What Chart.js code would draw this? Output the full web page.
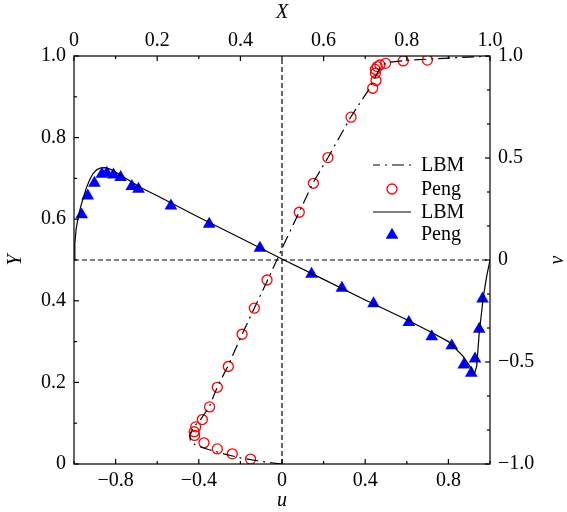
<!DOCTYPE html>
<html><head><meta charset="utf-8">
<script src="https://cdn.jsdelivr.net/npm/chart.js@4.4.1/dist/chart.umd.min.js"></script>
<style>html,body{margin:0;padding:0;background:#fff}</style>
</head><body>
<canvas id="c" width="567" height="512" style="width:567px;height:512px;display:block"></canvas>
<script>
// ---- u-velocity along vertical centreline (u on bottom axis, Y on left axis)
const lbmUY = [0,0.003,0.008,0.015,0.025,0.035,0.045,0.055,0.07,0.09,0.11,0.14,0.19,0.24,0.32,0.38,0.45,0.5,0.55,0.62,0.69,0.75,0.85,0.92,0.95,0.97,0.98,0.985,0.99,0.995,1.0];
const lbmU  = [0,-0.05,-0.12,-0.2,-0.28,-0.35,-0.41,-0.44,-0.443,-0.425,-0.39,-0.35,-0.31,-0.26,-0.19,-0.135,-0.07,-0.025,0.02,0.085,0.15,0.22,0.33,0.42,0.45,0.47,0.49,0.52,0.62,0.8,1.0];
const pengUY = [0.012,0.025,0.037,0.052,0.070,0.079,0.091,0.109,0.140,0.188,0.239,0.318,0.382,0.451,0.617,0.688,0.751,0.850,0.921,0.940,0.958,0.967,0.974,0.978,0.982,0.988,0.990];
const pengU  = [-0.151,-0.239,-0.311,-0.375,-0.420,-0.422,-0.415,-0.383,-0.348,-0.311,-0.258,-0.192,-0.133,-0.072,0.083,0.151,0.221,0.332,0.436,0.452,0.449,0.449,0.458,0.471,0.498,0.583,0.699];
// ---- v-velocity along horizontal centreline (X on top axis, v on right axis)
const lbmVX = [0,0.002,0.005,0.01,0.016,0.023,0.03,0.038,0.046,0.055,0.065,0.075,0.085,0.095,0.11,0.13,0.16,0.2,0.3,0.4,0.5,0.6,0.7,0.8,0.86,0.9,0.92,0.936,0.952,0.963,0.968,0.974,0.984,0.992,1.0];
const lbmV  = [0,0.08,0.15,0.21,0.26,0.31,0.355,0.395,0.425,0.443,0.452,0.453,0.447,0.437,0.418,0.393,0.355,0.315,0.21,0.108,0.005,-0.095,-0.196,-0.293,-0.355,-0.40,-0.44,-0.474,-0.523,-0.557,-0.52,-0.36,-0.18,-0.08,0];
const pengVX = [0.0185,0.033,0.049,0.067,0.079,0.095,0.112,0.139,0.155,0.233,0.325,0.447,0.571,0.644,0.720,0.805,0.860,0.908,0.937,0.955,0.964,0.974,0.982];
const pengV  = [0.222,0.315,0.377,0.421,0.426,0.418,0.405,0.361,0.348,0.266,0.176,0.058,-0.069,-0.138,-0.214,-0.306,-0.375,-0.420,-0.514,-0.554,-0.484,-0.339,-0.190];
// ---- reference lines
const refVertU = [0,0];   const refVertY = [0,1];
const refHorU  = [-1,1];  const refHorY  = [0.5,0.5];
// ---- ticks
const uMajor = [-0.8,-0.4,0,0.4,0.8]; const uLabels = ['\u22120.8','\u22120.4','0','0.4','0.8']; const uMinor = [-1,-0.6,-0.2,0.2,0.6,1];
const xMajor = [0,0.2,0.4,0.6,0.8,1.0]; const xLabels = ['0','0.2','0.4','0.6','0.8','1.0']; const xMinor = [0.1,0.3,0.5,0.7,0.9];
const yMajor = [0,0.2,0.4,0.6,0.8,1.0]; const yLabels = ['0','0.2','0.4','0.6','0.8','1.0']; const yMinor = [0.1,0.3,0.5,0.7,0.9];
const vMajor = [-1,-0.5,0,0.5,1]; const vLabels = ['\u22121.0','\u22120.5','0','0.5','1.0']; const vMinor = [-5/6,-4/6,-2/6,-1/6,1/6,2/6,4/6,5/6];
const vTitle = 'v';

const pts = (xs, ys) => xs.map((x,i)=>({x:x, y:ys[i]}));
const FONT = 'Liberation Serif';

function scaleOpts(pos, min, max, majors, labels, minors, size, pad, title, tpad) {
  return {
    type:'linear', position:pos, min:min, max:max,
    grid:{display:false, drawTicks:false}, border:{display:false},
    afterBuildTicks: s => { s.ticks = majors.concat(minors).sort((a,b)=>a-b).map(v=>({value:v})); },
    afterFit: s => { if (pos==='left'||pos==='right') s.width = size; else s.height = size; },
    ticks:{autoSkip:false, maxRotation:0, minRotation:0, padding:pad, color:'#000',
      font:{family:FONT, size:20},
      callback:(v)=>{ const i = majors.findIndex(m=>Math.abs(m-v)<1e-9); return i>=0?labels[i]:''; }},
    title:{display:!!title, text:title||'', color:'#000', padding:tpad, font:{family:FONT, size:20, style:'italic', lineHeight:1}},
    _majors: majors, _minors: minors
  };
}

const tickPlugin = {
  id:'ticksFrame',
  afterDatasetsDraw(chart){
    const ctx = chart.ctx, a = chart.chartArea;
    ctx.save();
    ctx.strokeStyle = '#000'; ctx.lineWidth = 1.2; ctx.setLineDash([]);
    ctx.strokeRect(a.left, a.top, a.right-a.left, a.bottom-a.top);
    const specs = [['x','bottom'],['x2','top'],['y','left'],['y2','right']];
    for (const [id,pos] of specs) {
      const s = chart.scales[id], o = s.options;
      const draw = (v, len) => {
        const p = s.getPixelForValue(v);
        ctx.beginPath();
        if (pos==='bottom'){ ctx.moveTo(p,a.bottom); ctx.lineTo(p,a.bottom-len); }
        if (pos==='top'){ ctx.moveTo(p,a.top); ctx.lineTo(p,a.top+len); }
        if (pos==='left'){ ctx.moveTo(a.left,p); ctx.lineTo(a.left+len,p); }
        if (pos==='right'){ ctx.moveTo(a.right,p); ctx.lineTo(a.right-len,p); }
        ctx.stroke();
      };
      o._majors.forEach(v=>draw(v,5));
      o._minors.forEach(v=>draw(v,3));
    }
    ctx.restore();
  },
  afterDraw(chart){
    const ctx = chart.ctx, a = chart.chartArea;
    ctx.save();
    // right axis title, rotated like the left one
    ctx.font = 'italic 20px "'+FONT+'"'; ctx.fillStyle = '#000'; ctx.textBaseline = 'middle'; ctx.textAlign = 'center';
    ctx.save(); ctx.translate(558, (a.top+a.bottom)/2); ctx.rotate(-Math.PI/2); ctx.fillText(vTitle, 0, 0); ctx.restore();
    // legend
    ctx.font = '20px "'+FONT+'"'; ctx.textAlign = 'left';
    const rows = [165,189,212,234];
    const x0 = 373, x1 = 411, xt = 421, xm = 392;
    const ds = chart.data.datasets;
    ctx.strokeStyle = '#000'; ctx.lineWidth = 1.2; ctx.setLineDash([12,5,2,5]); ctx.lineDashOffset = 5;
    ctx.beginPath(); ctx.moveTo(x0,rows[0]); ctx.lineTo(x1,rows[0]); ctx.stroke();
    ctx.setLineDash([]);
    ctx.fillText(ds[0].label, xt, rows[0]+1);
    ctx.strokeStyle = 'red'; ctx.lineWidth = 1.3;
    ctx.beginPath(); ctx.arc(xm, rows[1], 5, 0, Math.PI*2); ctx.stroke();
    ctx.fillText(ds[1].label, xt, rows[1]+1);
    ctx.strokeStyle = '#000'; ctx.lineWidth = 1.2;
    ctx.beginPath(); ctx.moveTo(x0,rows[2]); ctx.lineTo(x1,rows[2]); ctx.stroke();
    ctx.fillText(ds[2].label, xt, rows[2]+1);
    ctx.fillStyle = 'blue';
    const r = 7.3, cy = rows[3]+1;
    ctx.beginPath();
    for (let k=0;k<3;k++){ const ang = k*2*Math.PI/3; const px = xm+Math.sin(ang)*r, py = cy-Math.cos(ang)*r; k?ctx.lineTo(px,py):ctx.moveTo(px,py); }
    ctx.closePath(); ctx.fill();
    ctx.fillStyle = '#000';
    ctx.fillText(ds[3].label, xt, rows[3]+1);
    ctx.restore();
  }
};

new Chart(document.getElementById('c'), {
  type:'scatter',
  data:{ datasets:[
    {label:'LBM', data:pts(lbmU,lbmUY), xAxisID:'x', yAxisID:'y', showLine:true, borderColor:'#000', borderWidth:1.2, borderDash:[12,5,2,5], pointRadius:0, tension:0},
    {label:'Peng', data:pts(pengU,pengUY), xAxisID:'x', yAxisID:'y', showLine:false, pointStyle:'circle', pointRadius:5, borderColor:'red', backgroundColor:'rgba(0,0,0,0)', pointBorderWidth:1.3},
    {label:'LBM', data:pts(lbmVX,lbmV), xAxisID:'x2', yAxisID:'y2', showLine:true, borderColor:'#000', borderWidth:1.2, pointRadius:0, tension:0},
    {label:'Peng', data:pts(pengVX,pengV), xAxisID:'x2', yAxisID:'y2', showLine:false, pointStyle:'triangle', pointRadius:7.3, borderWidth:0, backgroundColor:'blue', borderColor:'blue'},
    {label:'ref1', data:pts(refVertU,refVertY), xAxisID:'x', yAxisID:'y', showLine:true, borderColor:'#000', borderWidth:1.2, borderDash:[5,3], pointRadius:0},
    {label:'ref2', data:pts(refHorU,refHorY), xAxisID:'x', yAxisID:'y', showLine:true, borderColor:'#000', borderWidth:1.2, borderDash:[5,3], pointRadius:0}
  ]},
  options:{
    responsive:false, animation:false, devicePixelRatio:1,
    layout:{padding:0},
    plugins:{legend:{display:false}, tooltip:{enabled:false}},
    scales:{
      x: scaleOpts('bottom',-1,1,uMajor,uLabels,uMinor,48,5,'u',{bottom:1}),
      x2: scaleOpts('top',0,1,xMajor,xLabels,xMinor,56,3,'X',{top:3}),
      y: scaleOpts('left',0,1,yMajor,yLabels,yMinor,74,8,'Y',{top:6}),
      y2: scaleOpts('right',-1,1,vMajor,vLabels,vMinor,77,8,null,0)
    }
  },
  plugins:[tickPlugin]
});
</script>
</body></html>
